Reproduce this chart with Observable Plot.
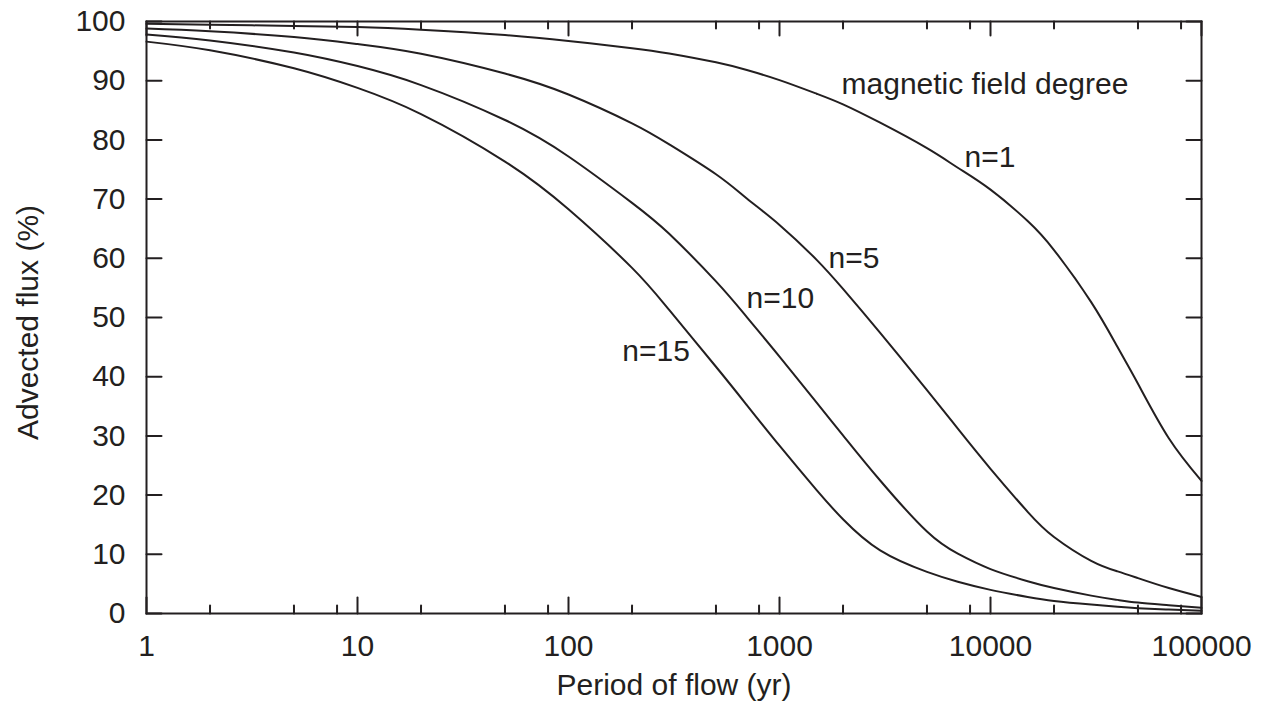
<!DOCTYPE html>
<html>
<head>
<meta charset="utf-8">
<script src="https://cdn.jsdelivr.net/npm/d3@7"></script>
<script src="https://cdn.jsdelivr.net/npm/@observablehq/plot@0.6"></script>
<style>
  html, body { margin: 0; padding: 0; background: #fff; overflow: hidden; }
</style>
</head>
<body>
<div id="chart"></div>
<script>
// Period of flow (yr)
const periods = [1, 2, 5, 10, 20, 50, 100, 200, 300, 500, 700, 1000, 1500, 2000, 3000, 5000, 7000, 10000, 15000, 20000, 30000, 40000, 50000, 70000, 100000];

// Advected flux (%) for each magnetic field degree
const fluxN1  = [99.6, 99.45, 99.25, 99.05, 98.6, 97.7, 96.7, 95.5, 94.6, 93.1, 91.8, 90.1, 87.8, 86.0, 82.9, 78.6, 75.3, 71.6, 66.3, 61.4, 52.6, 45.0, 38.8, 29.6, 22.4];
const fluxN5  = [98.8, 98.34, 97.37, 96.19, 94.55, 91.21, 87.67, 82.8, 79.25, 74.19, 70.1, 65.64, 59.74, 54.83, 47.4, 37.72, 31.22, 24.44, 17.18, 12.93, 8.9, 7.12, 5.98, 4.3, 2.8];
const fluxN10 = [97.8, 96.8, 94.76, 92.47, 89.26, 83.36, 77.2, 69.37, 64.14, 56.1, 50.07, 43.4, 35.6, 30.1, 22.47, 13.84, 10.1, 7.5, 5.46, 4.3, 3.02, 2.3, 1.85, 1.41, 0.95];
const fluxN15 = [96.6, 95.13, 92.09, 88.78, 84.36, 76.34, 68.28, 58.38, 51.27, 41.68, 35.21, 28.34, 20.84, 15.92, 10.66, 7.03, 5.36, 3.99, 2.79, 2.12, 1.5, 1.12, 0.89, 0.67, 0.45];

const seriesNames = ["n=1", "n=5", "n=10", "n=15"];
const seriesValues = [fluxN1, fluxN5, fluxN10, fluxN15];

// Axis ticks
const xMajorTicks = [1, 10, 100, 1000, 10000, 100000];
const xMinorTicks = [2, 5, 8, 20, 50, 80, 200, 500, 800, 2000, 5000, 8000, 20000, 50000, 80000];
const yTicks = [0, 10, 20, 30, 40, 50, 60, 70, 80, 90, 100];

// Annotations (label, period, flux)
const annLabels = ["magnetic field degree", "n=1", "n=5", "n=10", "n=15"];
const annPeriods = [1968, 7530, 1708, 698, 180];
const annFlux = [89.4, 77.1, 60.05, 53.3, 44.35];

const xLabel = "Period of flow (yr)";
const yLabel = "Advected flux (%)";

const data = seriesNames.flatMap((name, s) =>
  periods.map((p, i) => ({period: p, flux: seriesValues[s][i], n: name})));
const annotations = annLabels.map((t, i) => ({text: t, period: annPeriods[i], flux: annFlux[i]}));

const ink = "#231f20";
const tickLine = {draw(context, l) { context.moveTo(0, 0); context.lineTo(0, -l); }};

const tick = (values, frameAnchor, rotate, length, isX) => Plot.vector(values, {
  [isX ? "x" : "y"]: d => d,
  frameAnchor, rotate, length, anchor: "start",
  shape: tickLine, stroke: ink, strokeWidth: 2
});

const chart = Plot.plot({
  width: 1264,
  height: 708,
  marginLeft: 146,
  marginRight: 63,
  marginTop: 21,
  marginBottom: 95,
  style: {fontFamily: "'Liberation Sans', Arial, Helvetica, sans-serif", fontSize: "30px", color: ink, background: "#fff"},
  x: {type: "log", domain: [1, 100000]},
  y: {domain: [0, 100]},
  marks: [
    Plot.line(data, {x: "period", y: "flux", z: "n", stroke: ink, strokeWidth: 2, curve: "natural"}),
    // inward ticks
    tick(xMajorTicks, "bottom", 0, 16, true),
    tick(xMinorTicks, "bottom", 0, 8, true),
    tick(xMajorTicks, "top", 180, 14, true),
    tick(xMinorTicks, "top", 180, 7, true),
    tick(yTicks, "left", 90, 15, false),
    tick(yTicks, "right", -90, 15, false),
    Plot.frame({stroke: ink, strokeWidth: 2}),
    // tick labels
    Plot.axisX(xMajorTicks, {anchor: "bottom", tickSize: 0, tickPadding: 21, tickFormat: d => String(d), label: null, fill: ink}),
    Plot.axisY(yTicks, {anchor: "left", tickSize: 0, tickPadding: 21, tickFormat: d => String(d), label: null, fill: ink}),
    // axis titles
    Plot.text([xLabel], {frameAnchor: "bottom", dy: 72, textAnchor: "middle", lineAnchor: "middle", fill: ink}),
    Plot.text([yLabel], {frameAnchor: "left", rotate: -90, dx: -118, dy: 5, textAnchor: "middle", lineAnchor: "middle", fill: ink}),
    // annotations
    Plot.text(annotations, {x: "period", y: "flux", text: "text", textAnchor: "start", lineAnchor: "middle", fill: ink})
  ]
});
document.getElementById("chart").append(chart);
</script>
</body>
</html>
